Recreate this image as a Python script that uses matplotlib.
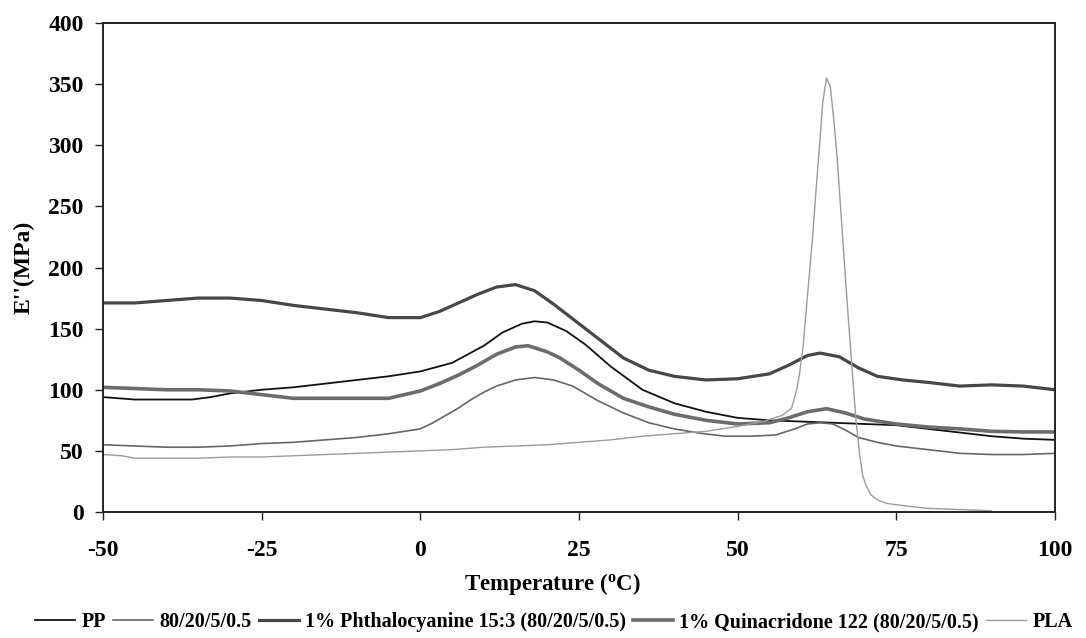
import matplotlib
matplotlib.use('Agg')
import matplotlib.pyplot as plt

# temperature (C) / loss modulus E'' (MPa)
pp_t = [-50, -45, -40, -36, -33, -30, -25, -20, -15, -10, -5, 0, 5, 10, 13, 16, 18, 20, 23, 26,
        30, 35, 40, 45, 50, 55, 60, 65, 70, 75, 80, 85, 90, 95, 100]
pp_e = [94, 92, 92, 92, 94, 97, 100, 102, 105, 108, 111, 115, 122, 136, 147, 154, 156, 155, 148, 137,
        119, 100, 89, 82, 77, 75, 74, 73, 72, 71, 68, 65, 62, 60, 59]

blend_t = [-50, -45, -40, -35, -30, -25, -20, -15, -10, -5, 0, 2, 4, 6, 8, 10, 12, 15, 18, 21, 24, 28,
           32, 36, 40, 44, 48, 52, 56, 59, 61, 63, 65, 67, 69, 72, 75, 80, 85, 90, 95, 100]
blend_e = [55, 54, 53, 53, 54, 56, 57, 59, 61, 64, 68, 73, 79, 85, 92, 98, 103, 108, 110, 108, 103, 91,
           81, 73, 68, 64.5, 62, 62, 63, 68, 72, 73, 72, 67, 61, 57, 54, 51, 48, 47, 47, 48]

phth_t = [-50, -45, -40, -35, -30, -25, -20, -15, -10, -5, 0, 3, 6, 9, 12, 15, 18, 21, 24, 28, 32, 36,
          40, 45, 50, 55, 58, 61, 63, 66, 69, 72, 76, 80, 85, 90, 95, 100]
phth_e = [171, 171, 173, 175, 175, 173, 169, 166, 163, 159, 159, 164, 171, 178, 184, 186, 181, 170, 158,
          142, 126, 116, 111, 108, 109, 113, 120, 128, 130, 127, 118, 111, 108, 106, 103, 104, 103, 100]

quin_t = [-50, -45, -40, -35, -30, -25, -20, -15, -10, -5, 0, 3, 6, 9, 12, 15, 17, 20, 22, 25, 28, 32,
          36, 40, 45, 50, 55, 58, 61, 64, 67, 70, 75, 80, 85, 90, 95, 100]
quin_e = [102, 101, 100, 100, 99, 96, 93, 93, 93, 93, 99, 105, 112, 120, 129, 135, 136, 131, 126, 116, 105, 93,
          86, 80, 75, 72, 73, 77, 82, 84.5, 81, 76, 72, 69.5, 68, 66, 65.5, 65.5]

pla_t = [-50, -47, -45, -40, -35, -30, -25, -20, -15, -10, -5, 0, 5, 10, 15, 20, 25, 30, 35, 40, 45, 50,
         54, 57, 58.5, 59.3, 59.8, 60.3, 60.8, 61.3, 61.8, 62.3, 62.8, 63.4, 64, 64.6, 65.2, 65.7, 66.2, 66.7,
         67.2, 67.7, 68.2, 68.7, 69.2, 69.7, 70.2, 71, 72, 73.5, 75, 78, 80, 85, 90]
pla_e = [47, 46, 44, 44, 44, 45, 45, 46, 47, 48, 49, 50, 51, 53, 54, 55, 57, 59, 62, 64, 66, 70,
         74, 79, 85, 100, 115, 135, 165, 195, 225, 260, 293, 335, 355, 348, 318, 288, 250, 213, 175,
         140, 105, 72, 48, 30, 22, 14, 10, 7, 6, 4, 3, 2, 1]

labels = ['PP', '80/20/5/0.5', '1% Phthalocyanine 15:3 (80/20/5/0.5)',
          '1% Quinacridone 122 (80/20/5/0.5)', 'PLA']

plt.rcParams['font.family'] = ['Liberation Serif', 'DejaVu Serif']
plt.rcParams['font.weight'] = 'bold'
plt.rcParams['axes.unicode_minus'] = False
plt.rcParams['mathtext.fontset'] = 'custom'
plt.rcParams['mathtext.rm'] = 'Liberation Serif'

fig = plt.figure(figsize=(10.86, 6.38), dpi=100)
ax = fig.add_axes([103 / 1086, 1 - 512 / 638, 952 / 1086, 489 / 638])

l1, = ax.plot(pp_t, pp_e, color='#111111', lw=1.3)
l2, = ax.plot(blend_t, blend_e, color='#666666', lw=1.2)
l3, = ax.plot(phth_t, phth_e, color='#474747', lw=2.3)
l4, = ax.plot(quin_t, quin_e, color='#6c6c6c', lw=2.6)
l5, = ax.plot(pla_t, pla_e, color='#9c9c9c', lw=1.0)

ax.set_xlim(-50, 100)
ax.set_ylim(0, 400)
ax.set_xticks(range(-50, 101, 25))
ax.set_yticks(range(0, 401, 50))
ax.tick_params(axis='both', direction='out', length=6, width=1, colors='#222222',
               labelsize=17, labelcolor='black')
ax.tick_params(axis='y', pad=8)
ax.tick_params(axis='x', pad=14)
for s in ax.spines.values():
    s.set_linewidth(1.4)
    s.set_color('#222222')

ax.set_ylabel("E''(MPa)", fontsize=17, fontweight='bold', labelpad=10)
ax.set_xlabel(r'Temperature ($\mathregular{^{o}}$C)', fontsize=16.5, fontweight='bold')
ax.xaxis.set_label_coords(0.472, -0.12)

fig.legend([l1, l2, l3, l4, l5], labels, loc='center', bbox_to_anchor=(0.51, 0.025),
           ncol=5, frameon=False, fontsize=14.5, handlelength=2.0, handletextpad=0.3,
           columnspacing=0.35, borderpad=0)

fig.savefig('out.png', dpi=100)
